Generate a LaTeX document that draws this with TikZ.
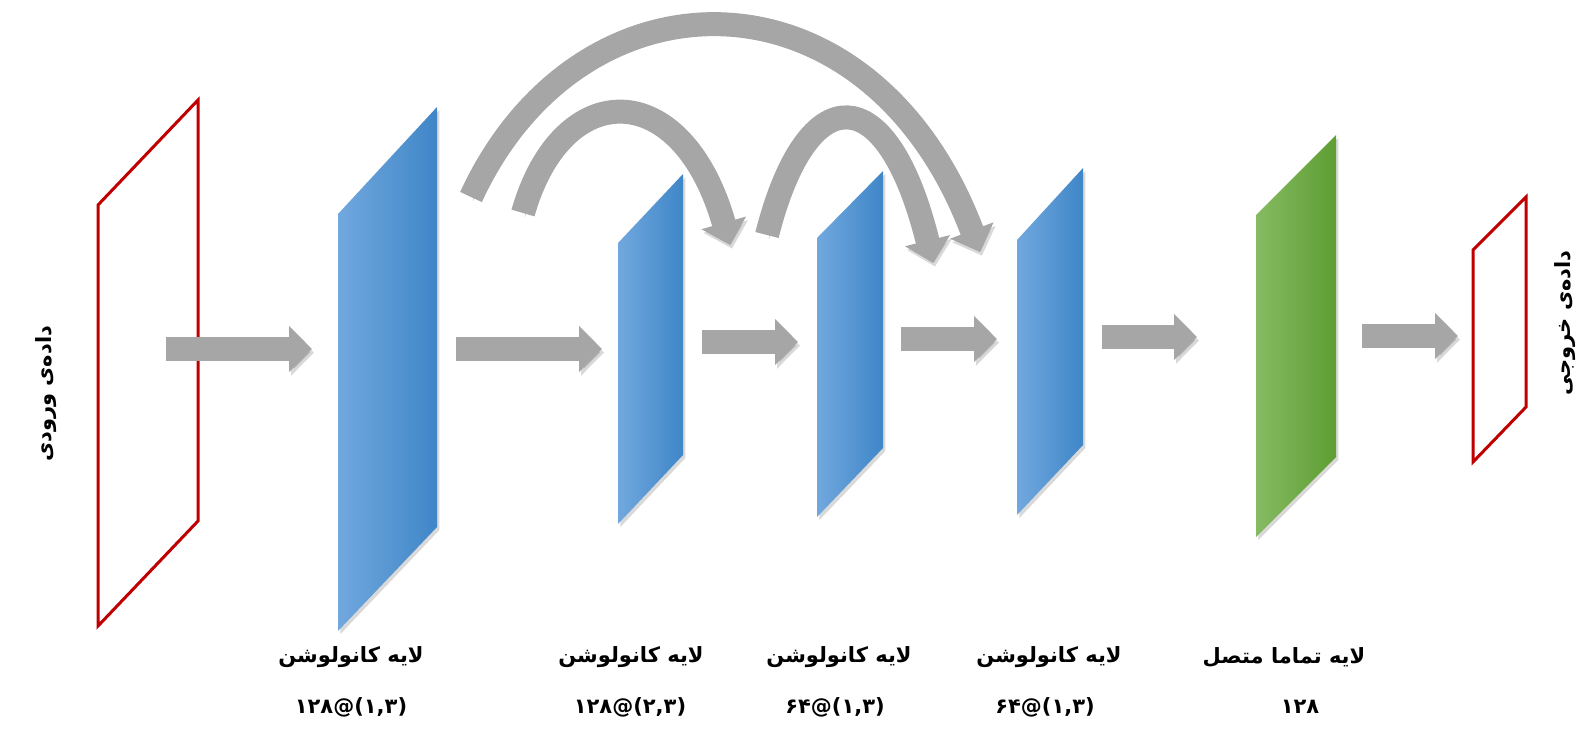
\documentclass[tikz,border=0pt]{standalone}
\usepackage{fontspec}
\usepackage{xcolor}
\usepackage{tikz}
\usetikzlibrary{arrows.meta, shadows}
\newfontfamily\farsi[Script=Arabic]{DejaVu Sans}
\newfontfamily\digits{DejaVu Sans}
\TeXXeTstate=1
\definecolor{convLeft}{HTML}{71A8DE}
\definecolor{convRight}{HTML}{3F86C8}
\definecolor{denseLeft}{HTML}{86BA63}
\definecolor{denseRight}{HTML}{5E9E32}
\definecolor{frameRed}{HTML}{C00000}
\definecolor{flowGray}{HTML}{A6A6A6}

\begin{document}
\begin{tikzpicture}[x=0.5pt, y=-0.5pt]
  \tikzstyle{plane} = [draw=frameRed, line width=1.5pt, line join=miter]
  \tikzstyle{conv} = [left color=convLeft, right color=convRight, drop shadow={shadow xshift=1.2pt, shadow yshift=-1.5pt, opacity=0.3}]
  \tikzstyle{dense} = [left color=denseLeft, right color=denseRight, drop shadow={shadow xshift=1.2pt, shadow yshift=-1.5pt, opacity=0.3}]
  \tikzstyle{flow} = [draw=flowGray, line width=12pt, -{Triangle[length=11.5pt, width=22.5pt]},
    preaction={draw=black, opacity=0.15, transform canvas={shift={(1pt,-1.8pt)}}}]
  \tikzstyle{caption} = [font=\bfseries\fontsize{10.5}{12}\selectfont, inner sep=0pt]

  \useasboundingbox (0,0) rectangle (1595,735);

  % layers
  \path[plane] (98,205) -- (198,100) -- (198,521) -- (98,626) -- cycle;
  \path[conv] (338,214) -- (437,107) -- (437,527) -- (338,631) -- cycle;
  \path[conv] (618,243) -- (683,174) -- (683,455) -- (618,524) -- cycle;
  \path[conv] (817,238) -- (883,171) -- (883,448) -- (817,517) -- cycle;
  \path[conv] (1017,240) -- (1083,168) -- (1083,445) -- (1017,515) -- cycle;
  \path[dense] (1256,215) -- (1336,135) -- (1336,457) -- (1256,537) -- cycle;
  \path[plane] (1473,250) -- (1526,197) -- (1526,407) -- (1473,462) -- cycle;

  % arrow ends
  \coordinate (InputTail) at (166,349);
  \coordinate (ConvAHead) at (312,349);
  \coordinate (ConvATail) at (456,349);
  \coordinate (ConvBHead) at (602,349);
  \coordinate (ConvBTail) at (702,342);
  \coordinate (ConvCHead) at (798,342);
  \coordinate (ConvCTail) at (901,339);
  \coordinate (ConvDHead) at (997,339);
  \coordinate (ConvDTail) at (1102,337);
  \coordinate (DenseHead) at (1197,337);
  \coordinate (DenseTail) at (1362,336);
  \coordinate (OutputHead) at (1458,336);

  \coordinate (SkipAFrom) at (523,213);
  \coordinate (SkipATo) at (730,245);
  \coordinate (SkipBFrom) at (767,235);
  \coordinate (SkipBTo) at (933,263);
  \coordinate (SkipCFrom) at (471,197);
  \coordinate (SkipCTo) at (980,252);

  \draw[flow] (InputTail) -- (ConvAHead);
  \draw[flow] (ConvATail) -- (ConvBHead);
  \draw[flow] (ConvBTail) -- (ConvCHead);
  \draw[flow] (ConvCTail) -- (ConvDHead);
  \draw[flow] (ConvDTail) -- (DenseHead);
  \draw[flow] (DenseTail) -- (OutputHead);

  % skip connections
  \draw[flow] (SkipCFrom) .. controls (580,-39) and (870,-39) .. (SkipCTo);
  \draw[flow] (SkipAFrom) .. controls (562,76) and (682,76) .. (SkipATo);
  \draw[flow] (SkipBFrom) .. controls (807,77) and (887,77) .. (SkipBTo);

  % captions
  \node[caption] (ConvAName) at (351,657) {\farsi\beginR لایه کانولوشن\endR};
  \node[caption] (ConvBName) at (631,657) {\farsi\beginR لایه کانولوشن\endR};
  \node[caption] (ConvCName) at (839,657) {\farsi\beginR لایه کانولوشن\endR};
  \node[caption] (ConvDName) at (1049,657) {\farsi\beginR لایه کانولوشن\endR};
  \node[caption] (DenseName) at (1284,657) {\farsi\beginR لایه تماما متصل\endR};
  \node[caption] (ConvASize) at (351,707) {\digits ۱۲۸@(۱,۳)};
  \node[caption] (ConvBSize) at (630,707) {\digits ۱۲۸@(۲,۳)};
  \node[caption] (ConvCSize) at (835,707) {\digits ۶۴@(۱,۳)};
  \node[caption] (ConvDSize) at (1045,707) {\digits ۶۴@(۱,۳)};
  \node[caption] (DenseSize) at (1300,707) {\digits ۱۲۸};
  \node[caption, rotate=90] (InputName) at (46,394) {\farsi\beginR داده^^^^200cی ورودی\endR};
  \node[caption, rotate=90] (OutputName) at (1565,323) {\farsi\beginR داده^^^^200cی خروجی\endR};
\end{tikzpicture}
\end{document}
